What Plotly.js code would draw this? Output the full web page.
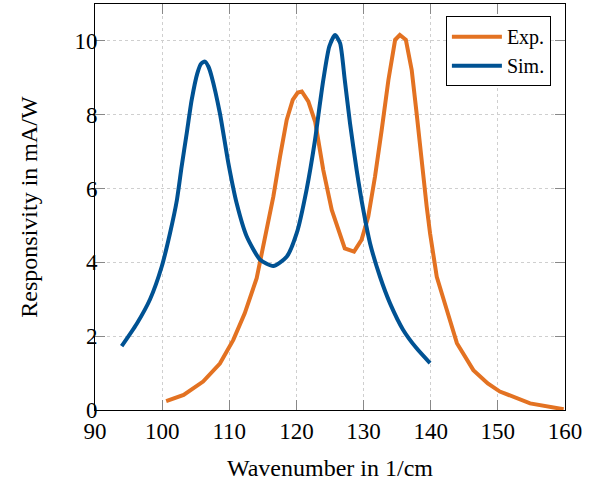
<!DOCTYPE html>
<html><head><meta charset="utf-8">
<script src="https://cdn.plot.ly/plotly-3.0.1.min.js"></script>
<style>html,body{margin:0;padding:0;background:#fff}</style>
</head><body>
<div id="chart" style="width:601px;height:484px"></div>
<script>
const simX = [93.97,96.2,98.2,99.93,101.17,102.2,102.9,103.66,104.4,105.24,105.8,106.38,106.9,107.38,108.6,109.86,111.1,112.6,114.6,116.56,118.55,120.04,121.5,122.77,123.5,124.0,124.9,125.75,126.5,127.2,127.98,128.97,129.96,130.96,132.45,133.94,135.9,137.9,139.9];
const simY = [1.73,2.33,3.00,3.88,4.79,5.69,6.59,7.50,8.40,9.12,9.38,9.44,9.30,9.03,8.04,6.69,5.60,4.70,4.07,3.90,4.15,4.79,5.96,7.32,8.30,8.94,9.85,10.16,9.94,8.94,7.77,6.50,5.42,4.52,3.61,2.89,2.17,1.67,1.27];
const expX = [100.6,103.2,106.1,108.6,110.6,112.3,114.08,115.3,116.56,117.55,118.55,119.45,120.2,120.8,121.77,122.8,124.0,125.26,126.5,127.2,128.58,129.7,130.7,131.7,132.7,133.7,134.7,135.4,136.3,137.17,137.9,138.66,139.4,139.9,140.9,142.4,143.9,146.35,148.5,150.3,154.8,159.8];
const expY = [0.24,0.41,0.77,1.26,1.90,2.62,3.57,4.70,5.78,6.86,7.86,8.40,8.60,8.63,8.36,7.80,6.50,5.42,4.79,4.38,4.29,4.61,5.24,6.32,7.59,8.94,10.03,10.16,10.03,9.21,8.04,6.69,5.51,4.79,3.61,2.71,1.81,1.08,0.72,0.50,0.18,0.02];
const xTicks = [90,100,110,120,130,140,150,160];
const yTicks = [0,2,4,6,8,10];

const fam = '"Liberation Serif", "DejaVu Serif", serif';
const tickFont = {family: fam, color: '#000', size: 23};
const titleFont = {family: fam, color: '#000', size: 24};
const traces = [
  {x: expX, y: expY, name: 'Exp.', mode: 'lines', line: {color: '#E37222', width: 4}},
  {x: simX, y: simY, name: 'Sim.', mode: 'lines', line: {color: '#005293', width: 4, shape: 'spline', smoothing: 0.6}}
];
const axisCommon = {
  showline: true, linecolor: '#000', linewidth: 1, mirror: 'ticks',
  ticks: 'inside', ticklen: 10, tickcolor: '#888', tickwidth: 1,
  showgrid: true, gridcolor: '#cfcfcf', griddash: 'dot', gridwidth: 1,
  zeroline: false, tickfont: tickFont
};
const layout = {
  width: 601, height: 484,
  margin: {l: 95, r: 36, t: 4, b: 74},
  paper_bgcolor: '#fff', plot_bgcolor: '#fff',
  font: titleFont,
  showlegend: true,
  legend: {x: 0.970, y: 0.970, xanchor: 'right', yanchor: 'top', bordercolor: '#000', borderwidth: 1, bgcolor: '#fff',
           tracegroupgap: 0, itemwidth: 50, font: {family: fam, size: 20, color: '#000'}},
  xaxis: Object.assign({}, axisCommon, {range: [90,160], tickvals: xTicks, ticktext: xTicks.map(String),
           title: {text: 'Wavenumber in 1/cm', font: titleFont, standoff: 16}}),
  yaxis: Object.assign({}, axisCommon, {range: [0,11], tickvals: yTicks, ticktext: yTicks.map(String), ticklabelstandoff: -8,
           title: {text: 'Responsivity in mA/W', font: titleFont, standoff: 30}})
};
Plotly.newPlot('chart', traces, layout, {staticPlot: true, displayModeBar: false});
</script>
</body></html>
